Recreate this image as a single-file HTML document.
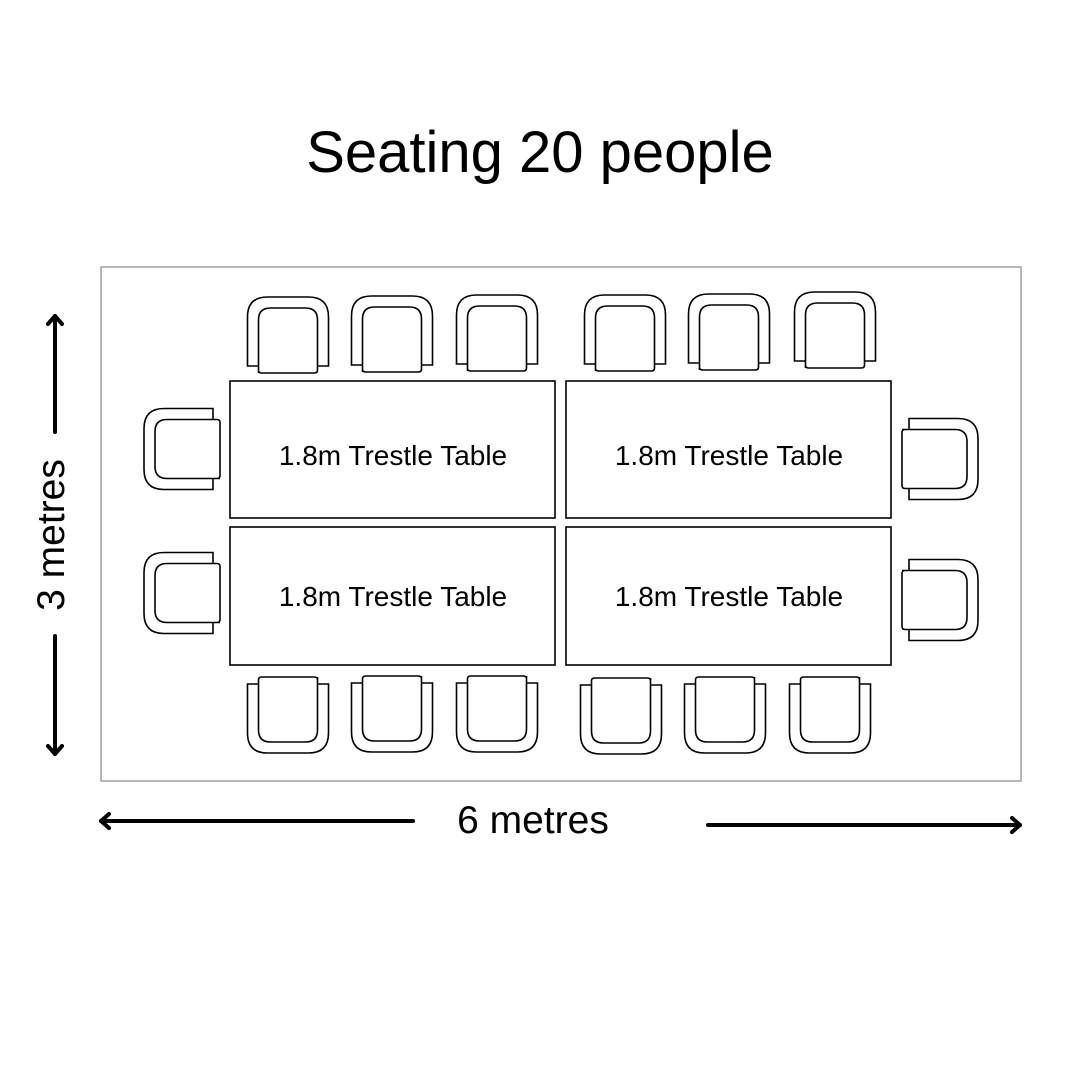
<!DOCTYPE html>
<html><head><style>html,body{margin:0;padding:0;background:#fff}</style></head>
<body>
<svg width="1080" height="1080" viewBox="0 0 1080 1080" xmlns="http://www.w3.org/2000/svg" font-family="Liberation Sans, Arial, sans-serif">
<defs>
<g id="ch">
<path d="M-40.5,31 L-40.5,-18 Q-40.5,-38 -20.5,-38 L20.5,-38 Q40.5,-38 40.5,-18 L40.5,31 Z" fill="#fff" stroke="#000" stroke-width="1.6"/>
<path d="M-29.5,38 L-29.5,-15 Q-29.5,-27 -17.5,-27 L17.5,-27 Q29.5,-27 29.5,-15 L29.5,35 Q29.5,38 26.5,38 L-26.5,38 Q-29.5,38 -29.5,35 Z" fill="#fff" stroke="#000" stroke-width="1.6"/>
</g>
</defs>
<text x="540" y="172" font-size="58" text-anchor="middle">Seating 20 people</text>
<rect x="101" y="267" width="920" height="514" fill="none" stroke="#888" stroke-width="1.2"/>
<use href="#ch" transform="translate(288,335)"/>
<use href="#ch" transform="translate(392,334)"/>
<use href="#ch" transform="translate(497,333)"/>
<use href="#ch" transform="translate(625,333)"/>
<use href="#ch" transform="translate(729,332)"/>
<use href="#ch" transform="translate(835,330)"/>
<use href="#ch" transform="translate(288,715) rotate(180)"/>
<use href="#ch" transform="translate(392,714) rotate(180)"/>
<use href="#ch" transform="translate(497,714) rotate(180)"/>
<use href="#ch" transform="translate(621,716) rotate(180)"/>
<use href="#ch" transform="translate(725,715) rotate(180)"/>
<use href="#ch" transform="translate(830,715) rotate(180)"/>
<use href="#ch" transform="translate(182,449) rotate(-90)"/>
<use href="#ch" transform="translate(182,593) rotate(-90)"/>
<use href="#ch" transform="translate(940,459) rotate(90)"/>
<use href="#ch" transform="translate(940,600) rotate(90)"/>
<g fill="#fff" stroke="#000" stroke-width="1.6">
<rect x="230" y="381" width="325" height="137"/>
<rect x="566" y="381" width="325" height="137"/>
<rect x="230" y="527" width="325" height="138"/>
<rect x="566" y="527" width="325" height="138"/>
</g>
<g font-size="28" text-anchor="middle">
<text x="393" y="465">1.8m Trestle Table</text>
<text x="729" y="465">1.8m Trestle Table</text>
<text x="393" y="606">1.8m Trestle Table</text>
<text x="729" y="606">1.8m Trestle Table</text>
</g>
<g stroke="#000" stroke-width="4" fill="none" stroke-linecap="round" stroke-linejoin="round">
<line x1="55" y1="316" x2="55" y2="432"/>
<polyline points="48,324 55,316 62,324"/>
<line x1="55" y1="636" x2="55" y2="754"/>
<polyline points="48,746 55,754 62,746"/>
<line x1="101" y1="821" x2="413" y2="821"/>
<polyline points="109,814 101,821 109,828"/>
<line x1="708" y1="825" x2="1020" y2="825"/>
<polyline points="1012,818 1020,825 1012,832"/>
</g>
<text x="533" y="833" font-size="39" text-anchor="middle">6 metres</text>
<text transform="translate(64,535) rotate(-90)" font-size="39" text-anchor="middle">3 metres</text>
</svg>
</body></html>
